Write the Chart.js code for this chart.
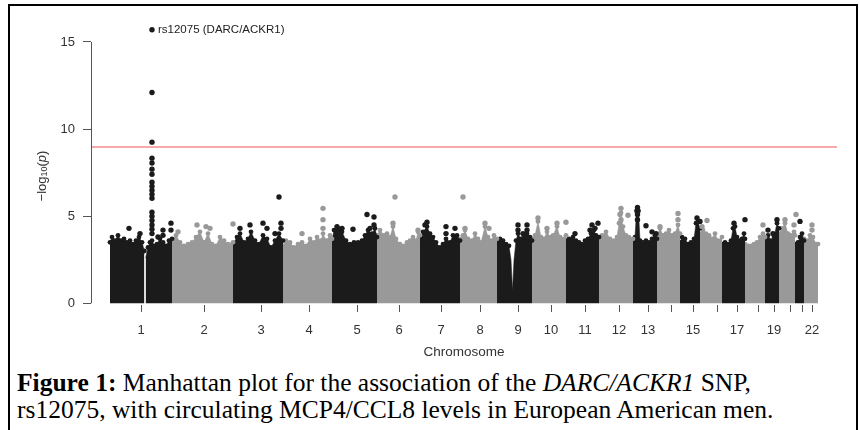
<!DOCTYPE html>
<html>
<head>
<meta charset="utf-8">
<script src="https://cdn.jsdelivr.net/npm/chart.js@4/dist/chart.umd.min.js"></script>
<style>
  html, body { margin: 0; padding: 0; background: #fff; width: 860px; height: 430px; overflow: hidden; }
  #frame { position: absolute; left: 8px; top: 4px; width: 846px; height: 460px; border: 2px solid #000; }
  #c { position: absolute; left: 0; top: 0; }
  #caption { position: absolute; left: 17px; top: 369px; font-family: "Liberation Serif", "Times New Roman", serif; font-size: 25.5px; line-height: 27px; color: #000; white-space: nowrap; }
</style>
</head>
<body>
<div id="frame"></div>
<canvas id="c" width="860" height="360"></canvas>
<div id="caption"><b>Figure 1:</b> Manhattan plot for the association of the <i>DARC/ACKR1</i> SNP,<br>rs12075, with circulating MCP4/CCL8 levels in European American men.</div>
<script>
// ---------- data (x = position along the genome, in plot units) ----------
const chrLabels = ['1','2','3','4','5','6','7','8','9','10','11','12','13','14','15','16','17','18','19','20','21','22'];
const chrTicks  = [31, 94, 151, 199, 247, 289, 331, 370, 408, 441, 475, 509, 538, 561, 583, 607, 627, 648, 664, 680, 692, 702];
const tickText  = ['1','2','3','4','5','6','7','8','9','10','11','12','13','','15','','17','','19','','','22'];

// upper envelope of the dense cloud of SNPs per chromosome [x, -log10(p)]
const top1a = [[0,3.5],[2,3.8],[5,3.6],[8,3.9],[11,3.6],[14,3.7],[17,3.5],[20,3.6],[23,3.4],[26,3.6],[29,3.8],[32,3.5],[34.4,3.0]];
const top1b = [[35.6,2.6],[38,3.2],[40,3.5],[42,3.6],[44,3.3],[47,3.4],[50,3.7],[53,3.5],[56,3.3],[59,3.6],[62,3.7]];
const top2  = [[62,3.6],[66,3.9],[70,3.5],[74,3.3],[78,3.4],[82,3.5],[86,3.8],[90,4.1],[94,3.5],[98,4.0],[102,3.4],[106,3.3],[110,3.8],[114,3.6],[118,3.4],[123,3.5]];
const top3  = [[123,3.4],[127,3.8],[130,4.0],[134,3.5],[138,3.7],[141,4.1],[145,3.6],[149,3.4],[153,3.9],[157,3.7],[161,3.2],[165,3.6],[169,4.0],[173,3.6]];
const top4  = [[173,3.3],[176,3.6],[180,3.5],[184,3.2],[188,3.4],[192,3.5],[196,3.3],[200,3.7],[204,3.5],[207,3.8],[211,3.6],[213,4.0],[216,3.6],[220,3.9],[222,3.7]];
const top5  = [[222,3.6],[224,4.2],[228,4.3],[232,4.1],[236,3.6],[240,3.4],[244,3.5],[248,3.5],[252,3.6],[255,3.9],[258,4.2],[262,4.0],[265,4.3],[267,3.8]];
const top6  = [[267,3.9],[270,4.2],[274,3.9],[277,4.0],[280,3.8],[283,4.4],[286,3.7],[290,3.4],[294,3.3],[297,3.5],[300,3.6],[303,3.8],[306,3.6],[308,4.1],[310,3.9]];
const top7  = [[310,3.7],[313,4.1],[317,4.4],[320,4.0],[323,3.8],[326,3.5],[330,3.2],[333,3.4],[336,3.7],[340,3.5],[343,3.9],[347,3.9],[350,3.6]];
const top8  = [[350,3.7],[353,3.9],[355,4.2],[358,3.7],[362,3.6],[365,4.0],[368,3.7],[371,3.5],[375,4.4],[378,3.8],[381,3.6],[384,3.9],[387,3.7]];
const top9  = [[387,3.5],[390,3.7],[393,3.6],[396,3.4],[399,3.3],[401,2.5],[402.5,0.75],[404,2.5],[406,3.6],[408,4.0],[411,3.7],[414,3.8],[417,4.0],[420,3.8],[422,3.6]];
const top10 = [[422,3.7],[425,3.9],[428,4.7],[431,3.8],[434,3.7],[437,4.1],[440,3.8],[443,3.9],[447,4.4],[450,3.8],[453,3.7],[456,3.9]];
const top11 = [[456,3.6],[459,3.7],[463,3.8],[466,3.6],[469,3.5],[472,3.4],[475,3.6],[478,3.7],[481,4.0],[484,4.2],[486,3.9],[489,3.8]];
const top12 = [[489,3.8],[492,3.9],[496,4.1],[500,3.7],[504,3.6],[507,3.8],[509,4.6],[511,5.2],[513,4.4],[516,3.9],[519,3.8],[523,3.7]];
const top13 = [[523,3.6],[525,3.8],[526.5,5.3],[528.5,5.3],[530,3.6],[533,3.5],[536,3.6],[539,3.5],[542,3.7],[545,3.9],[547,3.7]];
const top14 = [[547,3.9],[550,4.3],[553,3.9],[556,4.0],[559,4.2],[562,3.9],[565,4.0],[568,4.5],[570,4.0]];
const top15 = [[570,3.5],[572,3.8],[575,3.7],[578,3.4],[581,3.5],[584,3.7],[586,4.6],[588,4.7],[590,4.3]];
const top16 = [[590,4.0],[593,4.2],[596,4.0],[599,3.9],[602,3.7],[605,4.0],[608,3.6],[612,3.8]];
const top17 = [[612,3.4],[615,3.5],[618,3.4],[621,3.6],[623,4.3],[625,4.4],[627,3.8],[630,3.6],[632,3.7],[634,4.0],[635,3.7]];
const top18 = [[635,3.4],[638,3.3],[641,3.3],[644,3.4],[647,3.5],[650,3.8],[653,4.0],[655,3.8]];
const top19 = [[655,3.7],[658,3.9],[661,3.6],[664,3.8],[667,4.6],[669,4.3]];
const top20 = [[669,4.0],[672,4.3],[675,4.6],[678,4.0],[681,3.9],[684,4.1],[685,3.9]];
const top21 = [[685,3.4],[688,3.5],[690,3.8],[692,4.0],[694,3.6]];
const top22 = [[694,3.7],[697,3.6],[700,3.9],[703,3.8],[706,3.4],[708,3.4]];

// individual SNPs standing above the cloud
const darkDots = [[19,4.3],[30,4.0],[53,4.2],[53,3.9],[61,4.6],[61,4.2],[48,3.8],
  [130,4.3],[140,4.5],[153,4.6],[157,4.3],[165,4.0],[169,6.1],[171,4.6],[171,4.3],
  [227,4.4],[232,4.3],[243,4.25],[257,5.1],[264,4.95],[264,4.5],[260,4.3],
  [317,4.65],[315,4.5],[336,4.4],[336,4.0],[345,4.3],
  [408,4.5],[408,4.2],[417,4.5],[417,4.2],[413,4.0],
  [465,4.0],[480,4.2],[482,4.5],[488,4.6],[485,4.3],
  [527.5,5.5],[527.5,5.1],[527.5,4.8],[536,4.45],[542,4.1],[546,4.0],
  [587,4.9],[590,4.7],[624,4.6],[635,4.8],[658,4.2],[663,4.0],[667,4.8],[690,4.7]];
const lightDots = [[68,4.1],[87,4.5],[96,4.4],[100,4.3],[123,4.55],
  [192,4.0],[213,5.45],[213,4.8],[213,4.3],
  [283,4.6],[285,6.1],[308,4.2],
  [353,6.1],[355,4.3],[375,4.6],[379,4.3],
  [428,4.9],[437,4.3],[447,4.6],[456,4.65],
  [511,5.45],[510,5.1],[511,4.8],[518,5.05],
  [568,5.15],[568,4.8],[550,4.4],
  [597,4.75],[592,4.4],[653,4.5],
  [675,4.8],[686,5.1],[684,4.5],[702,4.5],[702,4.2]];
// chromosome 1 association column (DARC/ACKR1 locus)
const hitX = 42;
const hitColumn = [12.1, 9.25, 8.33, 8.05, 7.7, 7.41, 6.95, 6.72, 6.49, 6.26, 6.03, 5.23, 5.0, 4.75, 4.5, 4.25, 4.0];
const leadSnp = { x: 42, y: 15.7, label: 'rs12075 (DARC/ACKR1)' };
const threshold = 8.97;

// ---------- chart ----------
const DARK = '#1b1b1b', LIGHT = '#999999';
const segments = [[top1a,0],[top1b,0],[top2,1],[top3,2],[top4,3],[top5,4],[top6,5],[top7,6],[top8,7],[top9,8],[top10,9],[top11,10],
  [top12,11],[top13,12],[top14,13],[top15,14],[top16,15],[top17,16],[top18,17],[top19,18],[top20,19],[top21,20],[top22,21]];
const toXY = arr => arr.map(p => ({x: p[0], y: p[1]}));

const datasets = [];
datasets.push({ data: [{x:-19,y:threshold},{x:727,y:threshold}], showLine: true, borderColor: '#f58c8c', borderWidth: 1.6, pointRadius: 0, order: 1 });
datasets.push({ data: [{x: leadSnp.x, y: leadSnp.y}], backgroundColor: DARK, borderWidth: 0, pointRadius: 2.7, order: 2 });
datasets.push({ data: hitColumn.map(v => ({x: hitX, y: v})), backgroundColor: DARK, borderWidth: 0, pointRadius: 2.7, order: 2 });
datasets.push({ data: toXY(darkDots), backgroundColor: DARK, borderWidth: 0, pointRadius: 2.7, order: 2 });
datasets.push({ data: toXY(lightDots), backgroundColor: LIGHT, borderWidth: 0, pointRadius: 2.7, order: 2 });
segments.forEach(([arr, ci]) => {
  const col = ci % 2 === 0 ? DARK : LIGHT;
  datasets.push({ data: toXY(arr), showLine: true, fill: 'origin', borderColor: col, backgroundColor: col,
    borderWidth: 0.5, pointBackgroundColor: col, pointBorderWidth: 0,
    pointRadius: ctx => (ctx.raw && ctx.raw.y < 3 ? 0 : 2.4), tension: 0, order: 3 });
});

const decor = {
  id: 'decor',
  afterDraw(chart) {
    const ctx = chart.ctx, xs = chart.scales.x, ys = chart.scales.y, ca = chart.chartArea;
    ctx.save();
    // y axis line spanning 0..15
    ctx.strokeStyle = '#555'; ctx.lineWidth = 1;
    ctx.beginPath();
    ctx.moveTo(ca.left + 0.5, ys.getPixelForValue(0));
    ctx.lineTo(ca.left + 0.5, ys.getPixelForValue(15));
    ctx.stroke();
    // lead SNP label
    ctx.fillStyle = '#222';
    ctx.font = '11.5px "Liberation Sans", Arial, sans-serif';
    ctx.textBaseline = 'middle'; ctx.textAlign = 'left';
    ctx.fillText(leadSnp.label, xs.getPixelForValue(leadSnp.x) + 6, ys.getPixelForValue(leadSnp.y) + 0.5);
    // x title
    ctx.fillStyle = '#333';
    ctx.font = '13.5px "Liberation Sans", Arial, sans-serif';
    ctx.textAlign = 'center';
    ctx.fillText('Chromosome', (ca.left + ca.right) / 2, 352);
    // y title: −log10(p)
    ctx.translate(42, 176);
    ctx.rotate(-Math.PI / 2);
    const big = '13px "Liberation Sans", Arial, sans-serif';
    const small = '9px "Liberation Sans", Arial, sans-serif';
    const ital = 'italic 13px "Liberation Sans", Arial, sans-serif';
    const parts = [['\u2212log', big, 0], ['10', small, 3], ['(', big, 0], ['p', ital, 0], [')', big, 0]];
    let total = 0;
    parts.forEach(p => { ctx.font = p[1]; total += ctx.measureText(p[0]).width; });
    let cx = -total / 2;
    ctx.textAlign = 'left';
    parts.forEach(p => { ctx.font = p[1]; ctx.fillText(p[0], cx, p[2]); cx += ctx.measureText(p[0]).width; });
    ctx.restore();
  }
};

new Chart(document.getElementById('c'), {
  type: 'scatter',
  data: { datasets },
  options: {
    responsive: false, animation: false,
    layout: { padding: { left: 0, right: 23, top: 19, bottom: 0 } },
    plugins: { legend: { display: false }, tooltip: { enabled: false } },
    scales: {
      x: {
        type: 'linear', min: -19, max: 727,
        afterFit: s => { s.height = 55; },
        afterBuildTicks: s => { s.ticks = chrTicks.map(v => ({ value: v })); },
        ticks: { autoSkip: false, maxRotation: 0, padding: 11, color: '#333',
          font: { family: '"Liberation Sans", Arial, sans-serif', size: 13 },
          callback: (v, i) => tickText[i] },
        grid: { drawOnChartArea: false, drawTicks: true, tickLength: 7, color: '#555', lineWidth: 1 },
        border: { display: false }
      },
      y: {
        min: -0.1, max: 16.32,
        afterFit: s => { s.width = 91; },
        afterBuildTicks: s => { s.ticks = [0, 5, 10, 15].map(v => ({ value: v })); },
        ticks: { padding: 8, color: '#333',
          font: { family: '"Liberation Sans", Arial, sans-serif', size: 13 } },
        grid: { drawOnChartArea: false, drawTicks: true, tickLength: 8, color: '#555', lineWidth: 1 },
        border: { display: false }
      }
    }
  },
  plugins: [decor]
});
</script>
</body>
</html>
